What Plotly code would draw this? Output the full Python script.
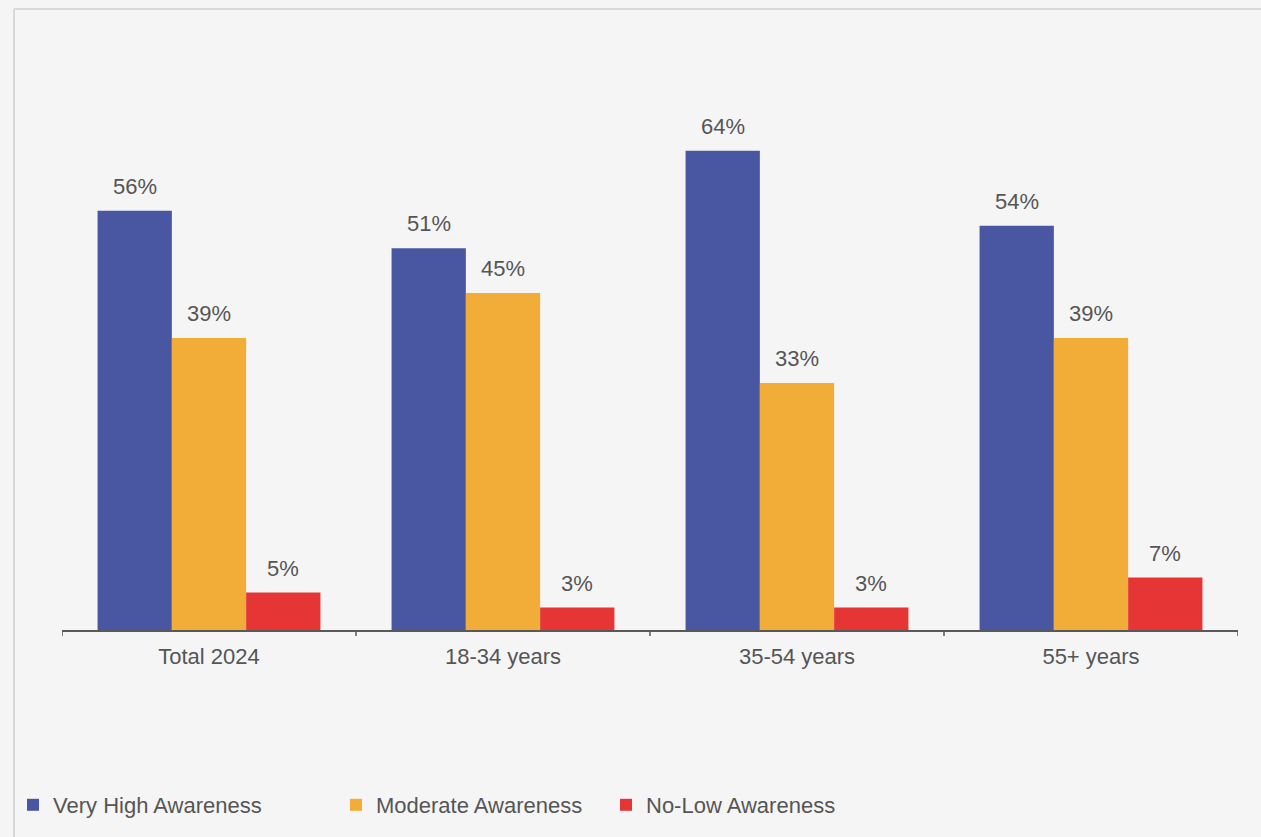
import plotly.graph_objects as go

# Awareness levels by age group (percent of respondents)
categories = ["Total 2024", "18-34 years", "35-54 years", "55+ years"]
very_high = [56, 51, 64, 54]
moderate = [39, 45, 33, 39]
no_low = [5, 3, 3, 7]

series_names = ["Very High Awareness", "Moderate Awareness", "No-Low Awareness"]
series_values = [very_high, moderate, no_low]
series_colors = ["#4957a2", "#f2ac38", "#e53534"]

W, H = 1261, 837
M_L, M_R, M_T, M_B = 62, 23, 31, 206
plot_w = W - M_L - M_R
plot_h = H - M_T - M_B

BARGAP = 0.242
bar_w = (1 - BARGAP) / len(series_names)  # width of one bar in category units

TEXT_COLOR = "#555555"
FONT = "Liberation Sans, Arial, sans-serif"
FS = 22

fig = go.Figure()

legend_ids = ["legend", "legend2", "legend3"]
for k, (name, vals, color) in enumerate(zip(series_names, series_values, series_colors)):
    fig.add_trace(go.Bar(
        name=name,
        x=list(range(len(categories))),
        y=vals,
        marker=dict(color=color, line=dict(width=0)),
        legend=legend_ids[k],
        showlegend=True,
        hovertemplate="%{y}%<extra>" + name + "</extra>",
    ))
    # value labels above each bar
    offset = (k - 1) * bar_w
    for i, v in enumerate(vals):
        fig.add_annotation(
            x=i + offset, y=v, xref="x", yref="y",
            text=f"{v}%", showarrow=False,
            yanchor="bottom", yshift=10,
            font=dict(family=FONT, size=FS, color=TEXT_COLOR),
        )

# outer frame lines (left and top edge of the chart panel)
def px_to_paper_x(px):
    return (px - M_L) / plot_w

def px_to_paper_y(py):
    return (H - M_B - py) / plot_h

frame = dict(color="#d9d9d9", width=2)
fig.add_shape(type="line", xref="paper", yref="paper",
              x0=px_to_paper_x(14), x1=px_to_paper_x(14),
              y0=px_to_paper_y(9), y1=px_to_paper_y(H + 5), line=frame)
fig.add_shape(type="line", xref="paper", yref="paper",
              x0=px_to_paper_x(14), x1=px_to_paper_x(W + 5),
              y0=px_to_paper_y(9), y1=px_to_paper_y(9), line=frame)

legend_common = dict(
    orientation="h", yanchor="middle", xanchor="left",
    bgcolor="rgba(0,0,0,0)", visible=True,
    font=dict(family=FONT, size=FS, color=TEXT_COLOR),
)
legend_text_x = [53, 376, 646]
legend_y = px_to_paper_y(805)

fig.update_layout(
    width=W, height=H,
    margin=dict(l=M_L, r=M_R, t=M_T, b=M_B),
    paper_bgcolor="#f5f5f5",
    plot_bgcolor="#f5f5f5",
    showlegend=True,
    barmode="group",
    bargap=BARGAP,
    bargroupgap=0,
    font=dict(family=FONT, color=TEXT_COLOR),
    xaxis=dict(
        tickmode="array",
        tickvals=list(range(len(categories))),
        ticktext=categories,
        range=[-0.5, len(categories) - 0.5],
        showline=True, linecolor="#595959", linewidth=1.5,
        ticks="", showgrid=False, zeroline=False,
        ticklabelstandoff=6,
        tickfont=dict(family=FONT, size=FS, color=TEXT_COLOR),
    ),
    yaxis=dict(range=[0, 80], visible=False, showgrid=False, zeroline=False),
    legend=dict(x=px_to_paper_x(legend_text_x[0] - 40), y=legend_y, **legend_common),
    legend2=dict(x=px_to_paper_x(legend_text_x[1] - 40), y=legend_y, **legend_common),
    legend3=dict(x=px_to_paper_x(legend_text_x[2] - 40), y=legend_y, **legend_common),
)

# tick marks at category boundaries
for b in range(len(categories) + 1):
    fig.add_shape(type="line", xref="x", yref="paper",
                  x0=b - 0.5, x1=b - 0.5,
                  y0=0, y1=px_to_paper_y(H - M_B + 6),
                  line=dict(color="#595959", width=1.5))

fig.write_html("out.html")
